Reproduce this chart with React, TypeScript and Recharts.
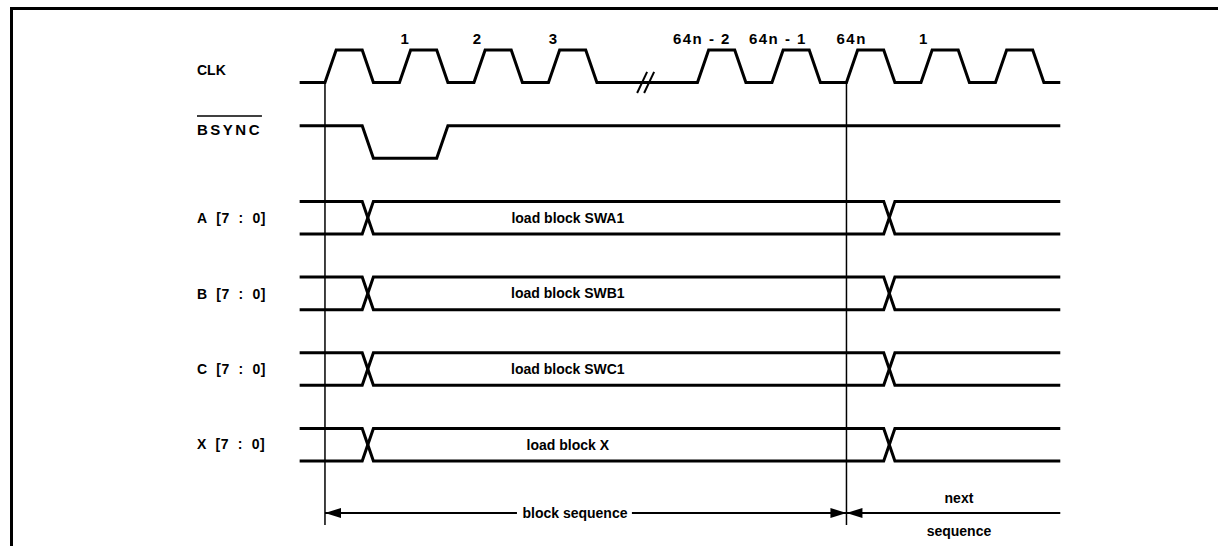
import { ComposedChart, Line, Scatter, XAxis, YAxis } from 'recharts';

const FONT = '"Liberation Sans", Arial, Helvetica, sans-serif';

// time axis in clock periods, t = 0 at the first rising edge of CLK
const T_DOMAIN: [number, number] = [-4.362, 11.987];
// vertical unit = one signal row (reversed, rows go down)
const Y_DOMAIN: [number, number] = [-0.66, 6.552];
const LOW = 0.43;

// [t, level] pairs
const clkWave: [number, number][] = [
  [-0.34, 0], [0, 0], [0.15, 1], [0.5, 1], [0.65, 0],
  [1, 0], [1.15, 1], [1.5, 1], [1.65, 0],
  [2, 0], [2.15, 1], [2.5, 1], [2.65, 0],
  [3, 0], [3.15, 1], [3.5, 1], [3.65, 0],
  [5, 0], [5.15, 1], [5.5, 1], [5.65, 0],
  [6, 0], [6.15, 1], [6.5, 1], [6.65, 0],
  [7, 0], [7.15, 1], [7.5, 1], [7.65, 0],
  [8, 0], [8.15, 1], [8.5, 1], [8.65, 0],
  [9, 0], [9.15, 1], [9.5, 1], [9.65, 0], [9.87, 0],
];
const bsyncWave: [number, number][] = [[-0.34, 1], [0.5, 1], [0.65, 0], [1.5, 0], [1.65, 1], [9.87, 1]];
const busTopWave: [number, number][] = [[-0.34, 1], [0.5, 1], [0.65, 0], [7.5, 0], [7.65, 1], [9.87, 1]];
const busBottomWave: [number, number][] = [[-0.34, 0], [0.5, 0], [0.65, 1], [7.5, 1], [7.65, 0], [9.87, 0]];

const NB = '\u00a0\u00a0';
const signalNames = ['CLK', 'BSYNC', `A${NB}[7${NB}:${NB}0]`, `B${NB}[7${NB}:${NB}0]`, `C${NB}[7${NB}:${NB}0]`, `X${NB}[7${NB}:${NB}0]`];
const nameRows = [0.26, 1.05, 2.22, 3.22, 4.22, 5.21];
const nameSize = [14, 15, 14, 14, 14, 14];
const nameSpacing = [0, 2.5, 0.5, 0.5, 0.5, 0.5];
const busRows = [2, 3, 4, 5];
const busText = ['load block SWA1', 'load block SWB1', 'load block SWC1', 'load block X'];

const clkLabels = ['1', '2', '3', '64n - 2', '64n - 1', '64n', '1'];
const clkLabelTimes = [1.08, 2.05, 3.07, 5.06, 6.08, 7.07, 8.04];

const markerTimes = [0, 7];
const breakTimes = [4.19, 4.284];

const toRow = (wave: [number, number][], row: number) =>
  wave.map(([t, l]) => ({ t, y: row + (1 - l) * LOW }));

const ARROW_Y = 6.116;
const blockLeft = [{ t: 0, y: ARROW_Y, head: 'left' }, { t: 2.577, y: ARROW_Y }];
const blockRight = [{ t: 4.12, y: ARROW_Y }, { t: 7, y: ARROW_Y, head: 'right' }];
const nextArrow = [{ t: 7, y: ARROW_Y, head: 'left' }, { t: 9.87, y: ARROW_Y }];

const nameData = signalNames.map((text, i) => ({
  t: -1.718, y: nameRows[i], text, anchor: 'start', spacing: nameSpacing[i], size: nameSize[i],
}));
const busData = busText.map((text, i) => ({ t: 3.26, y: busRows[i] + 0.215, text, anchor: 'middle', spacing: 0, size: 14 }));
const clkLabelData = clkLabels.map((text, i) => ({ t: clkLabelTimes[i], y: -0.145, text, anchor: 'middle', spacing: 1.5, size: 15 }));
const bottomData = [
  { t: 3.356, y: ARROW_Y, text: 'block sequence', anchor: 'middle', spacing: 0, size: 14 },
  { t: 8.51, y: 5.918, text: 'next', anchor: 'middle', spacing: 0, size: 14 },
  { t: 8.51, y: 6.354, text: 'sequence', anchor: 'middle', spacing: 0, size: 14 },
];
const overline = [{ t: -1.718, y: 0.872 }, { t: -0.846, y: 0.872 }];

const TextMark = (props: any) => {
  const { cx, cy, payload } = props;
  return (
    <text
      x={cx}
      y={cy}
      textAnchor={payload.anchor}
      dominantBaseline="central"
      fontFamily={FONT}
      fontSize={payload.size}
      fontWeight="bold"
      letterSpacing={payload.spacing}
      fill="#000"
    >
      {payload.text}
    </text>
  );
};

const ArrowHead = (props: any) => {
  const { cx, cy, payload, index } = props;
  if (!payload || !payload.head) return <g key={`d-${index}`} />;
  const d = payload.head === 'left' ? 16 : -16;
  return (
    <polygon
      key={`d-${index}`}
      points={`${cx},${cy} ${cx + d},${cy - 5} ${cx + d},${cy + 5}`}
      fill="#000"
    />
  );
};

const wire = (key: string, data: any[], width = 3) => (
  <Line
    key={key}
    data={data}
    dataKey="y"
    type="linear"
    stroke="#000"
    strokeWidth={width}
    strokeLinejoin="miter"
    dot={false}
    activeDot={false}
    isAnimationActive={false}
  />
);

export default function App() {
  return (
    <div style={{ position: 'absolute', left: 0, top: 0, width: 1218, height: 546, background: '#fff', overflow: 'hidden' }}>
      <div style={{
        position: 'absolute',
        left: 10,
        top: 7,
        width: 1220,
        height: 560,
        borderTop: '3px solid #000',
        borderLeft: '3px solid #000',
      }} />
      <div style={{ position: 'absolute', left: 0, top: 0 }}>
        <ComposedChart width={1218} height={546} margin={{ top: 0, right: 0, bottom: 0, left: 0 }}>
          <XAxis type="number" dataKey="t" domain={T_DOMAIN} allowDataOverflow hide />
          <YAxis type="number" dataKey="y" domain={Y_DOMAIN} allowDataOverflow reversed hide />

          {wire('clk', toRow(clkWave, 0))}
          {wire('bsync', toRow(bsyncWave, 1))}
          {busRows.map((r) => wire(`top-${r}`, toRow(busTopWave, r)))}
          {busRows.map((r) => wire(`bot-${r}`, toRow(busBottomWave, r)))}

          {markerTimes.map((t) => wire(`mark-${t}`, [{ t, y: LOW }, { t, y: 6.275 }], 1.5))}
          {breakTimes.map((t) => wire(`brk-${t}`, [{ t, y: 0.568 }, { t: t + 0.134, y: 0.29 }], 2))}
          {wire('overline', overline, 1.5)}

          {[blockLeft, blockRight, nextArrow].map((data, i) => (
            <Line
              key={`arrow-${i}`}
              data={data}
              dataKey="y"
              type="linear"
              stroke="#000"
              strokeWidth={2}
              dot={ArrowHead}
              activeDot={false}
              isAnimationActive={false}
            />
          ))}

          {[nameData, busData, clkLabelData, bottomData].map((data, i) => (
            <Scatter key={`txt-${i}`} data={data} dataKey="y" shape={TextMark} isAnimationActive={false} />
          ))}
        </ComposedChart>
      </div>
    </div>
  );
}
